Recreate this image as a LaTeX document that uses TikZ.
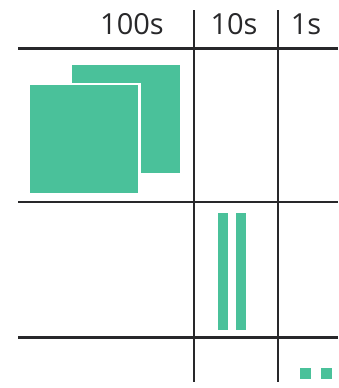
\documentclass[tikz,border=0pt]{standalone}
\usepackage{fontspec}
\setmainfont{Open Sans}
\usepackage{tikz}
\definecolor{tealgreen}{RGB}{74, 193, 154}
\definecolor{gridgray}{RGB}{40, 40, 42}

\begin{document}
\begin{tikzpicture}[
  x=1pt, y=-1pt,
  gridline/.style={draw=gridgray, line width=2.5pt},
  block/.style={fill=tealgreen},
  header/.style={anchor=base, inner sep=0pt, font=\fontsize{29}{32}\selectfont\color{gridgray}}
]
  \useasboundingbox (0,0) rectangle (338,388);

  % column headers
  \node[header] (hundreds) at (132,34.5) {100s};
  \node[header] (tens) at (234,34.5) {10s};
  \node[header] (ones) at (306,34.5) {1s};

  % grid
  \draw[gridline] (18,48.5) -- (338,48.5);
  \draw[gridline] (18,202) -- (338,202);
  \draw[gridline] (18,337.5) -- (338,337.5);
  \draw[gridline] (194,10) -- (194,382);
  \draw[gridline] (278,10) -- (278,382);

  % hundreds
  \fill[block] (72,65) rectangle (180,173);
  \fill[white] (27.5,82.5) rectangle (140.5,195.5);
  \fill[block] (30,85) rectangle (138,193);

  % tens
  \fill[block] (218,213) rectangle (228,330);
  \fill[block] (236,213) rectangle (246,330);

  % ones
  \fill[block] (300,368) rectangle (311,379);
  \fill[block] (321,368) rectangle (332,379);
\end{tikzpicture}
\end{document}
